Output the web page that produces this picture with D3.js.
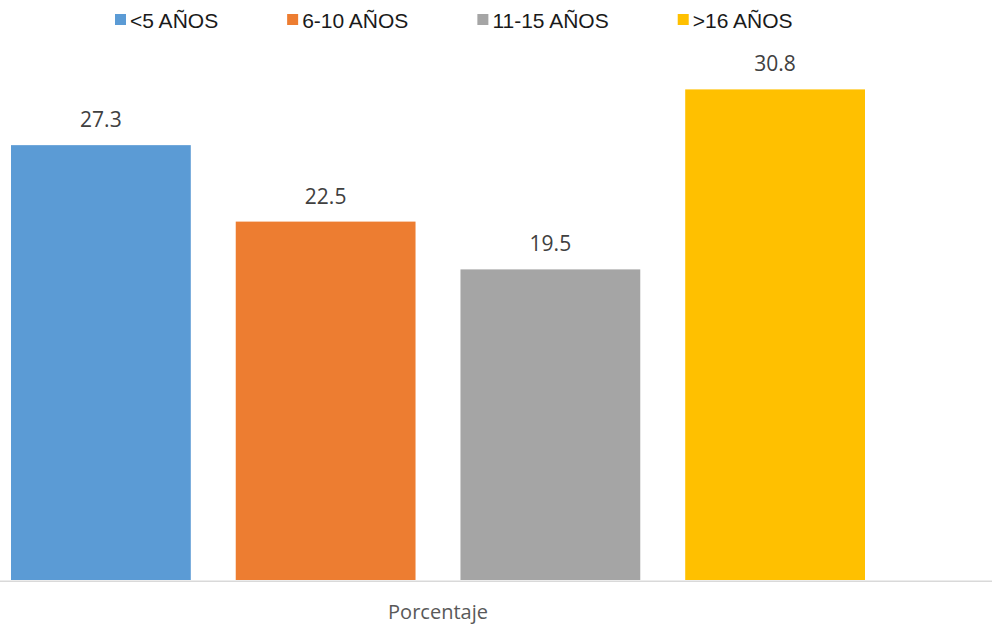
<!DOCTYPE html>
<html>
<head>
<meta charset="utf-8">
<script src="https://cdn.jsdelivr.net/npm/d3@7"></script>
<style>
  html, body { margin: 0; padding: 0; background: #fff; }
  svg { display: block; }
</style>
</head>
<body>
<svg id="chart" width="992" height="626"></svg>
<script>
// Series shown as clustered bars within the single category
const series = ["<5 AÑOS", "6-10 AÑOS", "11-15 AÑOS", ">16 AÑOS"];
const values = [27.3, 22.5, 19.5, 30.8];
const colors = ["#5B9BD5", "#ED7D31", "#A5A5A5", "#FFC000"];
const category = "Porcentaje";

const svg = d3.select("#chart");

const x = d3.scaleBand()
  .domain(series)
  .range([11, 865])
  .paddingInner(0.2)
  .paddingOuter(0);

const y = d3.scaleLinear()
  .domain([0, 35])
  .range([580, 22.5]);

const color = d3.scaleOrdinal().domain(series).range(colors);

const data = series.map((s, i) => ({ s, v: values[i] }));

// Bars
svg.append("g")
  .selectAll("rect")
  .data(data)
  .join("rect")
  .attr("x", d => x(d.s))
  .attr("y", d => y(d.v))
  .attr("width", x.bandwidth())
  .attr("height", d => y(0) - y(d.v))
  .attr("fill", d => color(d.s));

// Value labels
svg.append("g")
  .selectAll("text")
  .data(data)
  .join("text")
  .attr("x", d => x(d.s) + x.bandwidth() / 2)
  .attr("y", d => y(d.v) - 18)
  .attr("text-anchor", "middle")
  .attr("font-family", "'Open Sans', sans-serif")
  .attr("font-size", 21)
  .attr("fill", "#404040")
  .text(d => d.v.toFixed(1));

// Category axis line
svg.append("line")
  .attr("x1", 0).attr("x2", 992)
  .attr("y1", 581.25).attr("y2", 581.25)
  .attr("stroke", "#D9D9D9")
  .attr("stroke-width", 1.5);

// Category label
svg.append("text")
  .attr("x", (x.range()[0] + x.range()[1]) / 2)
  .attr("y", 619)
  .attr("text-anchor", "middle")
  .attr("font-family", "'Open Sans', sans-serif")
  .attr("font-size", 20)
  .attr("fill", "#595959")
  .text(category);

// Legend
const legend = svg.append("g");
let lx = 115;
series.forEach((s, i) => {
  const g = legend.append("g").attr("transform", `translate(${lx},0)`);
  g.append("rect")
    .attr("x", 0).attr("y", 14)
    .attr("width", 11).attr("height", 11)
    .attr("fill", colors[i]);
  const t = g.append("text")
    .attr("x", 15)
    .attr("y", 28)
    .attr("font-family", "'Liberation Sans', Arial, sans-serif")
    .attr("font-size", 21)
    .attr("fill", "#1a1a1a")
    .text(s);
  lx += 15 + t.node().getComputedTextLength() + 69;
});
</script>
</body>
</html>
